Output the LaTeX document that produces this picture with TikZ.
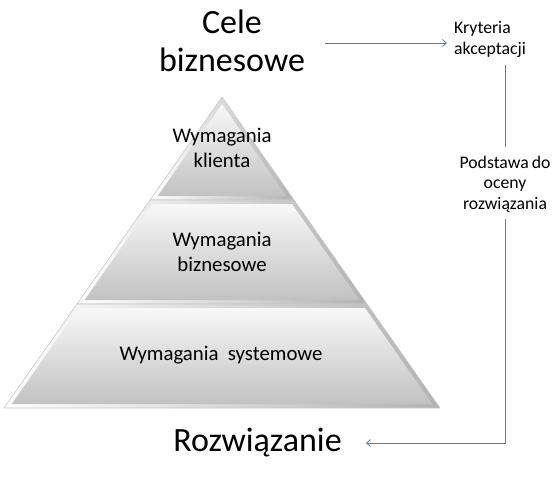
\documentclass[tikz,border=0pt]{standalone}
\usepackage{fontspec}
\setmainfont{Carlito}
\usetikzlibrary{arrows.meta}
\definecolor{connblue}{RGB}{74,126,187}
\tikzset{
  conn/.style={draw=connblue, line width=0.75pt},
  tip/.style={-{Straight Barb[length=4pt,width=7pt,line width=0.75pt]}},
  bigtxt/.style={inner sep=0pt, align=center, font=\fontsize{34}{38}\selectfont},
  tiertxt/.style={inner sep=0pt, align=center, font=\fontsize{20.8}{25.5}\selectfont},
  smalltxt/.style={inner sep=0pt, font=\fontsize{17.7}{21}\selectfont},
  podsttxt/.style={inner sep=0pt, align=center, font=\fontsize{17.7}{20.5}\selectfont},
  outertier/.style={left color=white, right color=black!30, draw=black!22, line width=0.6pt},
  innertier/.style={top color=black!3, bottom color=black!24},
}
\begin{document}
\begin{tikzpicture}[x=1pt,y=-1pt]
\useasboundingbox (0,0) rectangle (559,483);
% tiers
\path[outertier] (222,97) -- (294,200) -- (150,200) -- cycle;
\path[innertier] (222,104) -- (286.3,196) -- (157.7,196) -- cycle;
\path[outertier] (150,200) -- (294,200) -- (367,304) -- (77,304) -- cycle;
\path[innertier] (151.9,204) -- (292.1,204) -- (359.4,300) -- (84.6,300) -- cycle;
\path[outertier] (77,304) -- (367,304) -- (440,408) -- (4,408) -- cycle;
\path[innertier] (79,308) -- (365,308) -- (432.3,404) -- (11.7,404) -- cycle;
% texts
\node[tiertxt] (t1) at (222,148) {Wymagania\\klienta};
\node[tiertxt] (t2) at (222,252) {Wymagania\\biznesowe};
\node[tiertxt] (t3) at (221,355) {Wymagania\ \ systemowe};
\node[bigtxt] (cele) at (232,41) {Cele\\biznesowe};
\node[bigtxt] (rozw) at (257.5,443) {Rozwiązanie};
\node[smalltxt, align=left, anchor=west] (kryt) at (454,39) {Kryteria\\akceptacji};
\node[podsttxt] (podst) at (505,184) {Podstawa\hspace{-1pt} do\\oceny\\rozwiązania};
% connectors
\draw[conn, tip, shorten <=20pt, shorten >=7pt] ([yshift=-2pt]cele.east) -- ([yshift=-2pt]cele.east -| kryt.west);
\draw[conn, shorten <=8pt, shorten >=9pt] (kryt.south -| podst.north) -- (podst.north);
\draw[conn, tip, shorten <=7pt, shorten >=24pt] (podst.south) |- (rozw.east);
\end{tikzpicture}
\end{document}
